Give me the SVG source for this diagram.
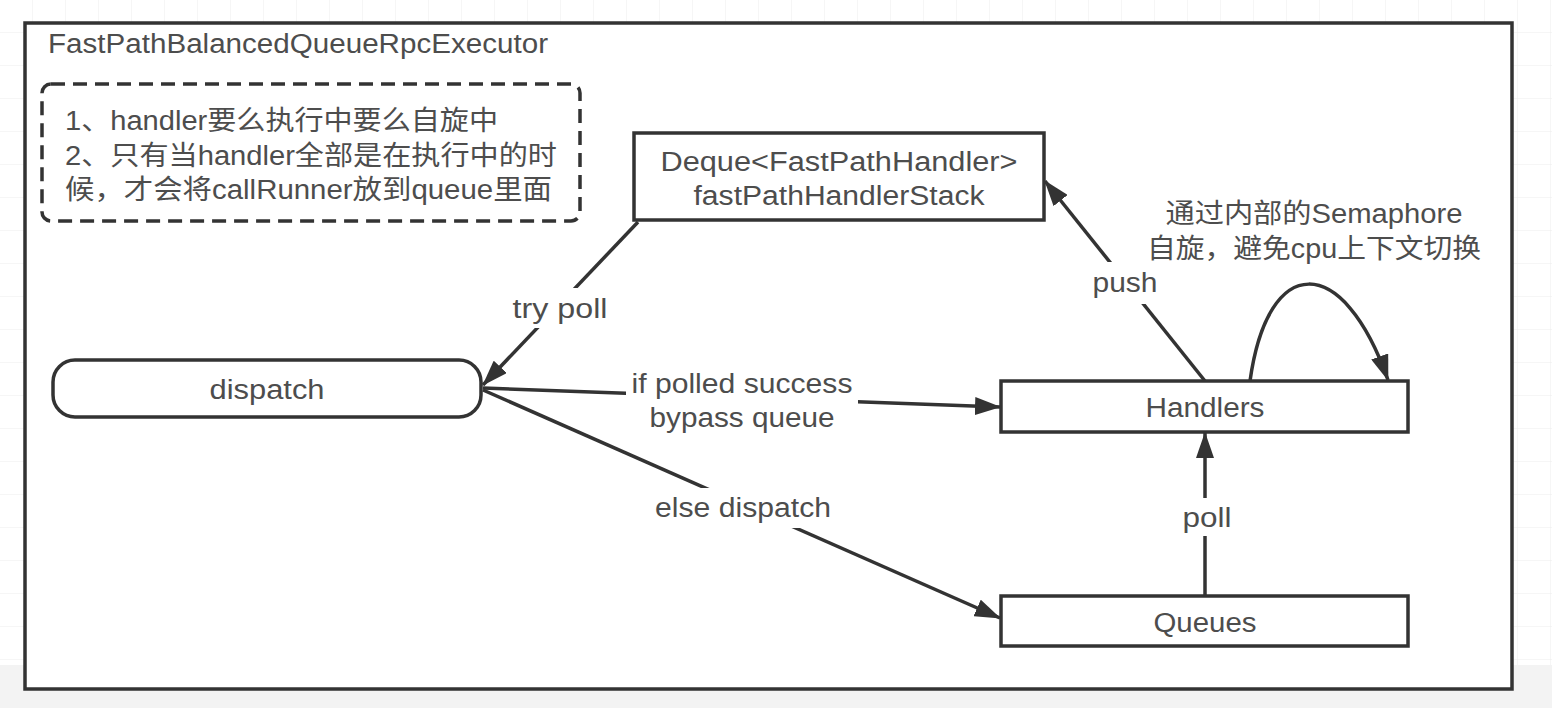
<svg xmlns="http://www.w3.org/2000/svg" width="1552" height="708" viewBox="0 0 1552 708">
<defs>
<pattern id="grid" width="33" height="33" patternUnits="userSpaceOnUse" x="0" y="0">
<path d="M33 0V33M0 33H33" fill="none" stroke="#ececec" stroke-width="1"/>
</pattern>
<marker id="arr" viewBox="0 0 26 18" refX="25" refY="9" markerWidth="26" markerHeight="18" markerUnits="userSpaceOnUse" orient="auto">
<path d="M0,0 L26,9 L0,18 Z" fill="#333"/>
</marker>
<style>
.t{font-family:"Liberation Sans","Noto Sans CJK SC",sans-serif;font-size:27px;fill:#4d4d4d}
.c{text-anchor:middle}
.box{fill:#fff;stroke:#333;stroke-width:3.5}
.ln{fill:none;stroke:#333;stroke-width:3.5}
.lbg{fill:#fff}
</style>
</defs>
<rect width="1552" height="708" fill="#fff"/>
<rect width="1552" height="708" fill="url(#grid)"/>
<rect x="0" y="665" width="1552" height="43" fill="#f3f3f3"/>

<g id="container">
<rect x="25" y="23" width="1487" height="666" class="box"/>
<text class="t" x="48" y="53" textLength="500" lengthAdjust="spacingAndGlyphs">FastPathBalancedQueueRpcExecutor</text>
</g>

<g id="note">
<rect x="42" y="84" width="538" height="137" rx="9" fill="#fff" stroke="#333" stroke-width="3.5" stroke-dasharray="14,8"/>
<text class="t" x="65" y="130"><tspan x="65" y="130" textLength="433" lengthAdjust="spacingAndGlyphs">1、handler要么执行中要么自旋中</tspan><tspan x="65" y="165" textLength="492" lengthAdjust="spacingAndGlyphs">2、只有当handler全部是在执行中的时</tspan><tspan x="65" y="199" textLength="487" lengthAdjust="spacingAndGlyphs">候，才会将callRunner放到queue里面</tspan></text>
</g>

<g id="connectors">
<path class="ln" d="M638,222 L483,385" marker-end="url(#arr)"/>
<path class="ln" d="M483,388 L1000,407" marker-end="url(#arr)"/>
<path class="ln" d="M483,390 L1000,618" marker-end="url(#arr)"/>
<path class="ln" d="M1205,381 L1045,181" marker-end="url(#arr)"/>
<path class="ln" d="M1205,596 L1205,433" marker-end="url(#arr)"/>
<path class="ln" d="M1250,381 C1268,252 1343,252 1388,380" marker-end="url(#arr)"/>
<rect class="lbg" x="506" y="288" width="108" height="40"/>
<text class="t c" x="560" y="318" textLength="95" lengthAdjust="spacingAndGlyphs">try poll</text>
<rect class="lbg" x="626" y="365" width="232" height="72"/>
<text class="t c" x="742" y="393"><tspan x="742" y="393" textLength="221" lengthAdjust="spacingAndGlyphs">if polled success</tspan><tspan x="742" y="427" textLength="185" lengthAdjust="spacingAndGlyphs">bypass queue</tspan></text>
<rect class="lbg" x="650" y="488" width="186" height="40"/>
<text class="t c" x="743" y="517" textLength="176" lengthAdjust="spacingAndGlyphs">else dispatch</text>
<rect class="lbg" x="1087" y="262" width="78" height="42"/>
<text class="t c" x="1125" y="292" textLength="65" lengthAdjust="spacingAndGlyphs">push</text>
<rect class="lbg" x="1177" y="498" width="60" height="38"/>
<text class="t c" x="1207" y="527" textLength="49" lengthAdjust="spacingAndGlyphs">poll</text>
<text class="t c" x="1314" y="223"><tspan x="1314" y="223" textLength="297" lengthAdjust="spacingAndGlyphs">通过内部的Semaphore</tspan><tspan x="1314" y="258" textLength="334" lengthAdjust="spacingAndGlyphs">自旋，避免cpu上下文切换</tspan></text>
</g>

<g id="deque">
<rect x="634" y="133" width="410" height="87" class="box"/>
<text class="t c" x="839" y="171"><tspan x="839" y="171" textLength="357" lengthAdjust="spacingAndGlyphs">Deque&lt;FastPathHandler&gt;</tspan><tspan x="839" y="205" textLength="291" lengthAdjust="spacingAndGlyphs">fastPathHandlerStack</tspan></text>
</g>

<g id="dispatch">
<rect x="53" y="360" width="428" height="57" rx="22" class="box"/>
<text class="t c" x="267" y="399" textLength="115" lengthAdjust="spacingAndGlyphs">dispatch</text>
</g>

<g id="handlers">
<rect x="1001" y="381" width="407" height="51" class="box"/>
<text class="t c" x="1205" y="417" textLength="119" lengthAdjust="spacingAndGlyphs">Handlers</text>
</g>

<g id="queues">
<rect x="1001" y="596" width="407" height="50" class="box"/>
<text class="t c" x="1205" y="632" textLength="103" lengthAdjust="spacingAndGlyphs">Queues</text>
</g>
</svg>
